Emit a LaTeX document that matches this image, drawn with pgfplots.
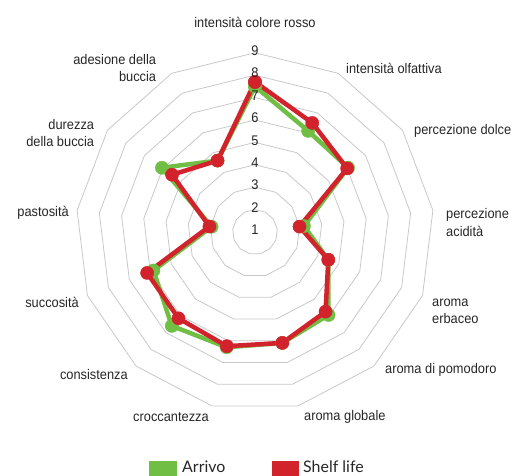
\documentclass[border=0pt]{standalone}
\usepackage{fontspec}
\setmainfont{Liberation Sans}[FakeStretch=0.92]
\newfontfamily\legendfont{Lato}
\usepackage{pgfplots}
\pgfplotsset{compat=1.18}
\usepackage{pgfplotstable}
\definecolor{arrivo}{RGB}{112,190,68}
\definecolor{shelf}{RGB}{210,34,44}
\definecolor{gridgray}{RGB}{200,200,200}

% angle (deg, clockwise from top, 13 categories) and score
\pgfplotstableread{
ang val
90 7.5
62.3077 6.1
34.6154 6.05
6.9231 3.2
-20.7692 4.5
-48.4615 5.95
-76.1538 6.1
-103.8462 6.3
-131.5385 6.6
-159.2308 5.85
-186.9231 2.95
-214.6154 6.05
-242.3077 4.6
-270 7.5
}\dataA
\pgfplotstableread{
ang val
90 7.7
62.3077 6.5
34.6154 6.0
6.9231 3.0
-20.7692 4.5
-48.4615 5.75
-76.1538 6.1
-103.8462 6.25
-131.5385 6.15
-159.2308 6.15
-186.9231 3.05
-214.6154 5.5
-242.3077 4.6
-270 7.7
}\dataB

\begin{document}
\begin{tikzpicture}[x=1bp,y=1bp]
\useasboundingbox (-255,-244) rectangle (259,232);
% polygonal grid
\foreach \r in {1,...,8} {
  \draw[gridgray, line width=0.8bp, line join=miter] (90:\r*22.4) \foreach \k in {1,...,12} { -- ({90-360/13*\k}:\r*22.4) } -- cycle;
}
\begin{axis}[at={(0,0)}, anchor=origin, x=22.4bp, y=22.4bp,
  xmin=-8, xmax=8, ymin=-8, ymax=8, hide axis, clip=false]
\addplot[arrivo, line width=4.5bp, line join=round, mark=*, mark size=6.6bp,
  mark options={line width=0.4bp}, data cs=polar]
  table[x=ang, y expr=\thisrow{val}-1] {\dataA};
\addplot[shelf, line width=4.5bp, line join=round, mark=*, mark size=6.6bp,
  mark options={line width=0.4bp}, data cs=polar]
  table[x=ang, y expr=\thisrow{val}-1] {\dataB};
\end{axis}
% radial tick labels
\foreach \v in {1,...,9} {
  \node[font=\fontsize{14}{16}\selectfont, text=black!85, inner sep=0pt] at (0,{2+22.4*(\v-1)}) {\v};
}
% category labels
\begin{scope}[every node/.style={font=\fontsize{14}{17.5}\selectfont, text=black!85, inner sep=0pt}]
\node at (0,210) {intensità colore rosso};
\node[anchor=west] at (91,164) {intensità olfattiva};
\node[anchor=west] at (159,101) {percezione dolce};
\node[anchor=west, align=left] at (191,9.5) {percezione\\acidità};
\node[anchor=west, align=left] at (177,-79.5) {aroma\\erbaceo};
\node[anchor=west] at (130,-138) {aroma di pomodoro};
\node[anchor=west] at (49,-185) {aroma globale};
\node[anchor=east] at (-46,-185) {croccantezza};
\node[anchor=east] at (-127,-143) {consistenza};
\node[anchor=east] at (-176,-70.7) {succosità};
\node[anchor=east] at (-186,19) {pastosità};
\node[anchor=east, align=right] at (-160.7,98.7) {durezza\\della buccia};
\node[anchor=east, align=right] at (-98.7,164) {adesione della\\buccia};
\end{scope}
% legend
\fill[arrivo] (-106,-228.5) rectangle (-78,-250);
\node[anchor=base west, inner sep=0pt, font=\legendfont\fontsize{16}{16}\selectfont, text=black!85] at (-73,-240.5) {Arrivo};
\fill[shelf] (17,-228.5) rectangle (44,-250);
\node[anchor=base west, inner sep=0pt, font=\legendfont\fontsize{16}{16}\selectfont, text=black!85] at (48,-240.5) {Shelf life};
\end{tikzpicture}
\end{document}
